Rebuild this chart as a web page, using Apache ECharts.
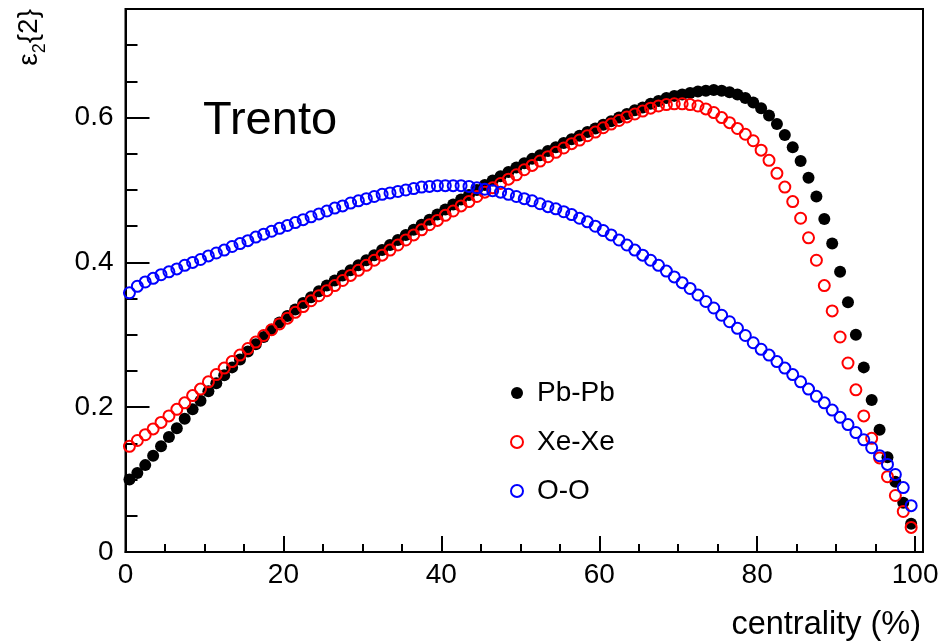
<!DOCTYPE html>
<html>
<head>
<meta charset="utf-8">
<script src="https://cdn.jsdelivr.net/npm/echarts@6/dist/echarts.min.js"></script>
<style>
html,body{margin:0;padding:0;background:#fff;}
#chart{width:944px;height:641px;}
</style>
</head>
<body>
<div id="chart"></div>
<script>
// centrality bin centres (%)
const centrality = [
 0.5, 1.5, 2.5, 3.5, 4.5, 5.5, 6.5, 7.5, 8.5, 9.5,
 10.5,11.5,12.5,13.5,14.5,15.5,16.5,17.5,18.5,19.5,
 20.5,21.5,22.5,23.5,24.5,25.5,26.5,27.5,28.5,29.5,
 30.5,31.5,32.5,33.5,34.5,35.5,36.5,37.5,38.5,39.5,
 40.5,41.5,42.5,43.5,44.5,45.5,46.5,47.5,48.5,49.5,
 50.5,51.5,52.5,53.5,54.5,55.5,56.5,57.5,58.5,59.5,
 60.5,61.5,62.5,63.5,64.5,65.5,66.5,67.5,68.5,69.5,
 70.5,71.5,72.5,73.5,74.5,75.5,76.5,77.5,78.5,79.5,
 80.5,81.5,82.5,83.5,84.5,85.5,86.5,87.5,88.5,89.5,
 90.5,91.5,92.5,93.5,94.5,95.5,96.5,97.5,98.5,99.5
];
const pbpb = [
 0.100,0.109,0.120,0.133,0.146,0.159,0.171,0.184,0.197,0.209,
 0.222,0.233,0.244,0.255,0.266,0.277,0.287,0.297,0.307,0.317,
 0.326,0.335,0.344,0.352,0.360,0.368,0.375,0.382,0.389,0.396,
 0.403,0.410,0.417,0.424,0.431,0.438,0.445,0.452,0.459,0.466,
 0.473,0.480,0.487,0.493,0.500,0.507,0.513,0.519,0.525,0.531,
 0.537,0.543,0.548,0.554,0.559,0.565,0.570,0.575,0.580,0.585,
 0.590,0.595,0.600,0.605,0.610,0.614,0.619,0.623,0.627,0.630,
 0.632,0.634,0.636,0.637,0.638,0.637,0.635,0.632,0.627,0.621,
 0.613,0.603,0.591,0.576,0.559,0.540,0.517,0.491,0.460,0.426,
 0.387,0.345,0.300,0.255,0.210,0.169,0.131,0.097,0.068,0.039
];
const xexe = [
 0.146,0.154,0.162,0.170,0.179,0.188,0.197,0.206,0.216,0.225,
 0.235,0.245,0.254,0.263,0.272,0.281,0.290,0.299,0.307,0.315,
 0.323,0.331,0.339,0.347,0.354,0.361,0.368,0.375,0.382,0.389,
 0.396,0.403,0.410,0.417,0.424,0.431,0.438,0.445,0.452,0.458,
 0.465,0.471,0.478,0.484,0.491,0.497,0.503,0.509,0.515,0.521,
 0.528,0.534,0.540,0.546,0.552,0.558,0.564,0.569,0.575,0.580,
 0.586,0.591,0.596,0.601,0.605,0.609,0.613,0.616,0.618,0.619,
 0.619,0.618,0.616,0.612,0.607,0.600,0.593,0.585,0.577,0.568,
 0.555,0.541,0.523,0.504,0.484,0.461,0.434,0.403,0.368,0.333,
 0.297,0.261,0.224,0.188,0.157,0.130,0.104,0.078,0.056,0.034
];
const oo = [
 0.358,0.367,0.373,0.378,0.383,0.387,0.391,0.396,0.400,0.404,
 0.409,0.413,0.417,0.422,0.426,0.430,0.435,0.439,0.443,0.447,
 0.451,0.455,0.459,0.463,0.467,0.471,0.475,0.478,0.482,0.485,
 0.488,0.491,0.494,0.496,0.498,0.500,0.502,0.504,0.505,0.506,
 0.506,0.506,0.506,0.505,0.503,0.501,0.499,0.497,0.494,0.491,
 0.488,0.485,0.481,0.477,0.474,0.470,0.466,0.461,0.456,0.450,
 0.444,0.438,0.431,0.424,0.417,0.410,0.403,0.396,0.388,0.380,
 0.372,0.364,0.355,0.346,0.337,0.327,0.318,0.309,0.299,0.289,
 0.280,0.272,0.263,0.254,0.245,0.235,0.225,0.215,0.206,0.196,
 0.186,0.176,0.165,0.155,0.144,0.133,0.121,0.107,0.089,0.064
];
const seriesNames = ['Pb-Pb', 'Xe-Xe', 'O-O'];
const xTickLabels = ['0', '20', '40', '60', '80', '100'];
const yTickLabels = ['0', '0.2', '0.4', '0.6'];

const FONT = 'Liberation Sans, Arial, Helvetica, sans-serif';
const pairs = arr => centrality.map((c, i) => [c, arr[i]]);

const chart = echarts.init(document.getElementById('chart'), null, {renderer: 'canvas'});

const xLabelFmt = v => {
  const s = String(Math.round(v));
  return (Math.abs(v - Math.round(v)) < 1e-9 && xTickLabels.indexOf(s) >= 0) ? s : '';
};
const yLabelFmt = v => {
  const s = Math.abs(v) < 1e-9 ? '0' : v.toFixed(1);
  return (Math.abs(v * 5 - Math.round(v * 5)) < 1e-6 && yTickLabels.indexOf(s) >= 0) ? s : '';
};

const option = {
  animation: false,
  backgroundColor: '#fff',
  grid: {
    left: 125.5, right: 21, top: 9, bottom: 89,
    show: true, borderColor: '#000', borderWidth: 2,
    backgroundColor: 'transparent',
    outerBoundsMode: 'none'
  },
  xAxis: [
    {
      type: 'value', min: 0, max: 101, interval: 20, position: 'bottom',
      axisLine: {show: true, onZero: false, lineStyle: {color: '#000', width: 2}},
      axisTick: {show: true, inside: true, length: 16, lineStyle: {color: '#000', width: 2}},
      axisLabel: {show: true, fontSize: 28, fontFamily: FONT, color: '#000', margin: 9,
                  formatter: xLabelFmt, showMaxLabel: false},
      splitLine: {show: false}
    },
    {
      type: 'value', min: 0, max: 101, interval: 5, position: 'bottom',
      axisLine: {show: false, onZero: false},
      axisTick: {show: true, inside: true, length: 8, lineStyle: {color: '#000', width: 2}},
      axisLabel: {show: false},
      splitLine: {show: false}
    }
  ],
  yAxis: [
    {
      type: 'value', min: 0, max: 0.75, interval: 0.2, position: 'left',
      axisLine: {show: true, onZero: false, lineStyle: {color: '#000', width: 2}},
      axisTick: {show: true, inside: true, length: 24, lineStyle: {color: '#000', width: 2}},
      axisLabel: {show: true, fontSize: 28, fontFamily: FONT, color: '#000', margin: 12,
                  formatter: yLabelFmt, showMaxLabel: false},
      splitLine: {show: false}
    },
    {
      type: 'value', min: 0, max: 0.75, interval: 0.05, position: 'left',
      axisLine: {show: false, onZero: false},
      axisTick: {show: true, inside: true, length: 12, lineStyle: {color: '#000', width: 2}},
      axisLabel: {show: false},
      splitLine: {show: false}
    }
  ],
  legend: {
    show: true, orient: 'vertical', left: 510, top: 379,
    itemWidth: 30, itemHeight: 12, itemGap: 21, selectedMode: false,
    padding: 0,
    textStyle: {fontSize: 28, fontFamily: FONT, color: '#000'},
    data: seriesNames
  },
  series: [
    {
      name: seriesNames[0], type: 'scatter', xAxisIndex: 0, yAxisIndex: 0,
      data: pairs(pbpb), symbol: 'circle', symbolSize: 12,
      itemStyle: {color: '#000', opacity: 1},
      emphasis: {disabled: true}, z: 2
    },
    {
      name: seriesNames[1], type: 'scatter', xAxisIndex: 0, yAxisIndex: 0,
      data: pairs(xexe), symbol: 'circle', symbolSize: 11,
      itemStyle: {color: 'rgba(0,0,0,0)', borderColor: '#ff0000', borderWidth: 2, opacity: 1},
      emphasis: {disabled: true}, z: 3
    },
    {
      name: seriesNames[2], type: 'scatter', xAxisIndex: 0, yAxisIndex: 0,
      data: pairs(oo), symbol: 'circle', symbolSize: 11,
      itemStyle: {color: 'rgba(0,0,0,0)', borderColor: '#0000ff', borderWidth: 2, opacity: 1},
      emphasis: {disabled: true}, z: 4
    }
  ],
  graphic: [
    {
      type: 'text', left: 203, top: 98, z: 10,
      style: {text: 'Trento', fontSize: 47, fontFamily: FONT, fill: '#000'}
    },
    {
      type: 'text', x: 921, y: 609, z: 10,
      style: {text: 'centrality (%)', fontSize: 32.5, fontFamily: FONT, fill: '#000',
              align: 'right', verticalAlign: 'top'}
    },
    {
      type: 'text', x: 29, y: 9, rotation: Math.PI / 2, z: 10,
      style: {
        text: '{e|ε}{s|2}{b|{2}}',
        align: 'right', verticalAlign: 'middle',
        fontSize: 28, fontFamily: FONT, fill: '#000',
        rich: {
          e: {fontSize: 28, fontFamily: FONT, fill: '#000', color: '#000'},
          s: {fontSize: 18, fontFamily: FONT, fill: '#000', color: '#000', verticalAlign: 'bottom', padding: [0, 0, -6, 0]},
          b: {fontSize: 28, fontFamily: FONT, fill: '#000', color: '#000'}
        }
      }
    }
  ]
};
chart.setOption(option);
</script>
</body>
</html>
